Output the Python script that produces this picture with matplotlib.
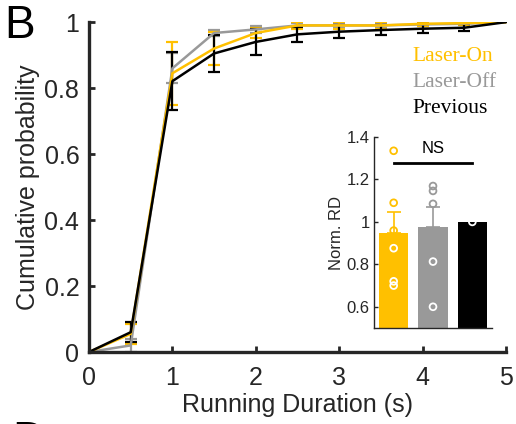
import numpy as np
import matplotlib.pyplot as plt

# cumulative probability curves
dur = [0, 0.5, 1, 1.5, 2, 2.5, 3, 3.5, 4, 4.5, 5]
laser_on = [0, 0.055, 0.845, 0.92, 0.967, 0.99, 0.99, 0.99, 0.995, 0.997, 1.0]
laser_on_err = [0, 0.03, 0.095, 0.05, 0.015, 0.01, 0.01, 0.01, 0.006, 0.005, 0]
laser_off = [0, 0.02, 0.86, 0.967, 0.978, 0.99, 0.99, 0.99, 0.993, 0.995, 1.0]
laser_off_err = [0, 0.02, 0.045, 0.01, 0.01, 0.008, 0.008, 0.008, 0.006, 0.005, 0]
previous = [0, 0.06, 0.821, 0.905, 0.94, 0.963, 0.971, 0.976, 0.98, 0.983, 1.0]
previous_err = [0, 0.03, 0.087, 0.057, 0.04, 0.022, 0.02, 0.016, 0.013, 0.01, 0]

# inset bars
groups = ['Laser-On', 'Laser-Off', 'Previous']
bar_vals = [0.948, 0.976, 1.0]
bar_err = [0.099, 0.094, 0]
pts_on = [1.335, 1.09, 0.959, 0.876, 0.72, 0.70]
pts_off = [1.169, 1.146, 1.085, 0.813, 0.60]
pts_prev = [1.0]

yellow = '#FFC000'
gray = '#999999'
dark = '#262626'
colors = [yellow, gray, 'black']

plt.rcParams['font.family'] = ['Liberation Sans', 'DejaVu Sans']
fig = plt.figure(figsize=(5.16, 4.24), dpi=100)

ax = fig.add_axes([0.1725, 0.1698, 0.808, 0.778])
for y, e, c in [(laser_off, laser_off_err, gray), (laser_on, laser_on_err, yellow),
                (previous, previous_err, 'black')]:
    ax.errorbar(dur, y, yerr=e, color=c, lw=1.8, elinewidth=1.6, capsize=4, capthick=1.6)
ax.set_xlim(0, 5)
ax.set_ylim(0, 1)
ax.set_xticks([0, 1, 2, 3, 4, 5])
ax.set_yticks([0, 0.2, 0.4, 0.6, 0.8, 1])
ax.set_yticklabels(['0', '0.2', '0.4', '0.6', '0.8', '1'])
ax.tick_params(direction='in', length=4, width=2, labelsize=18, colors=dark, pad=7)
ax.tick_params(axis='x', pad=10)
for s in ['top', 'right']:
    ax.spines[s].set_visible(False)
for s in ['left', 'bottom']:
    ax.spines[s].set_linewidth(2.4)
    ax.spines[s].set_color(dark)
ax.set_xlabel('Running Duration (s)', fontsize=18, color=dark, labelpad=2)
ax.set_ylabel('Cumulative probability', fontsize=18, color=dark, labelpad=3)

for i, (g, c) in enumerate(zip(groups, colors)):
    fig.text(412 / 516, 1 - (61 + 26 * i) / 424, g, color=c, fontsize=15.5,
             family='Liberation Serif', ha='left', va='baseline')

fig.text(4 / 516, 1 - 26 / 424, 'B', fontsize=33, ha='left', va='center', color='black')
fig.text(12 / 516, 1 - 442 / 424, 'D', fontsize=33, ha='left', va='center', color='black')

# inset
ins = fig.add_axes([0.7248, 0.2264, 0.2287, 0.4505])
xpos = np.arange(1, 4)
ins.bar(xpos, bar_vals, width=0.75, color=colors, zorder=1)
for x, v, e, c in zip(xpos, bar_vals, bar_err, colors):
    if e > 0:
        ins.errorbar([x], [v], yerr=[[0], [e]], color=c, lw=1.2, capsize=5, capthick=1.2, zorder=2)
for x, pts, c in zip(xpos, [pts_on, pts_off, pts_prev], colors):
    v = bar_vals[x - 1]
    ec = [c if p > v + 0.005 else 'white' for p in pts]
    ins.scatter([x] * len(pts), pts, s=24, facecolors='none', edgecolors=ec, linewidths=1.3, zorder=3)
ins.plot([1, 3], [1.278, 1.278], color='black', lw=2)
ins.text(2, 1.31, 'NS', ha='center', va='bottom', fontsize=12, color='black')
ins.set_xlim(0.5, 3.5)
ins.set_ylim(0.5, 1.4)
ins.set_yticks([0.6, 0.8, 1, 1.2, 1.4])
ins.set_yticklabels(['0.6', '0.8', '1', '1.2', '1.4'])
ins.set_xticks([])
ins.tick_params(direction='in', length=3, width=1, labelsize=12, colors=dark, pad=3)
ins.spines['top'].set_visible(False)
ins.spines['right'].set_visible(False)
for s in ['left', 'bottom']:
    ins.spines[s].set_linewidth(1)
    ins.spines[s].set_color(dark)
ins.set_ylabel('Norm. RD', fontsize=12, color=dark, labelpad=2)

fig.savefig('out.png', dpi=100)
